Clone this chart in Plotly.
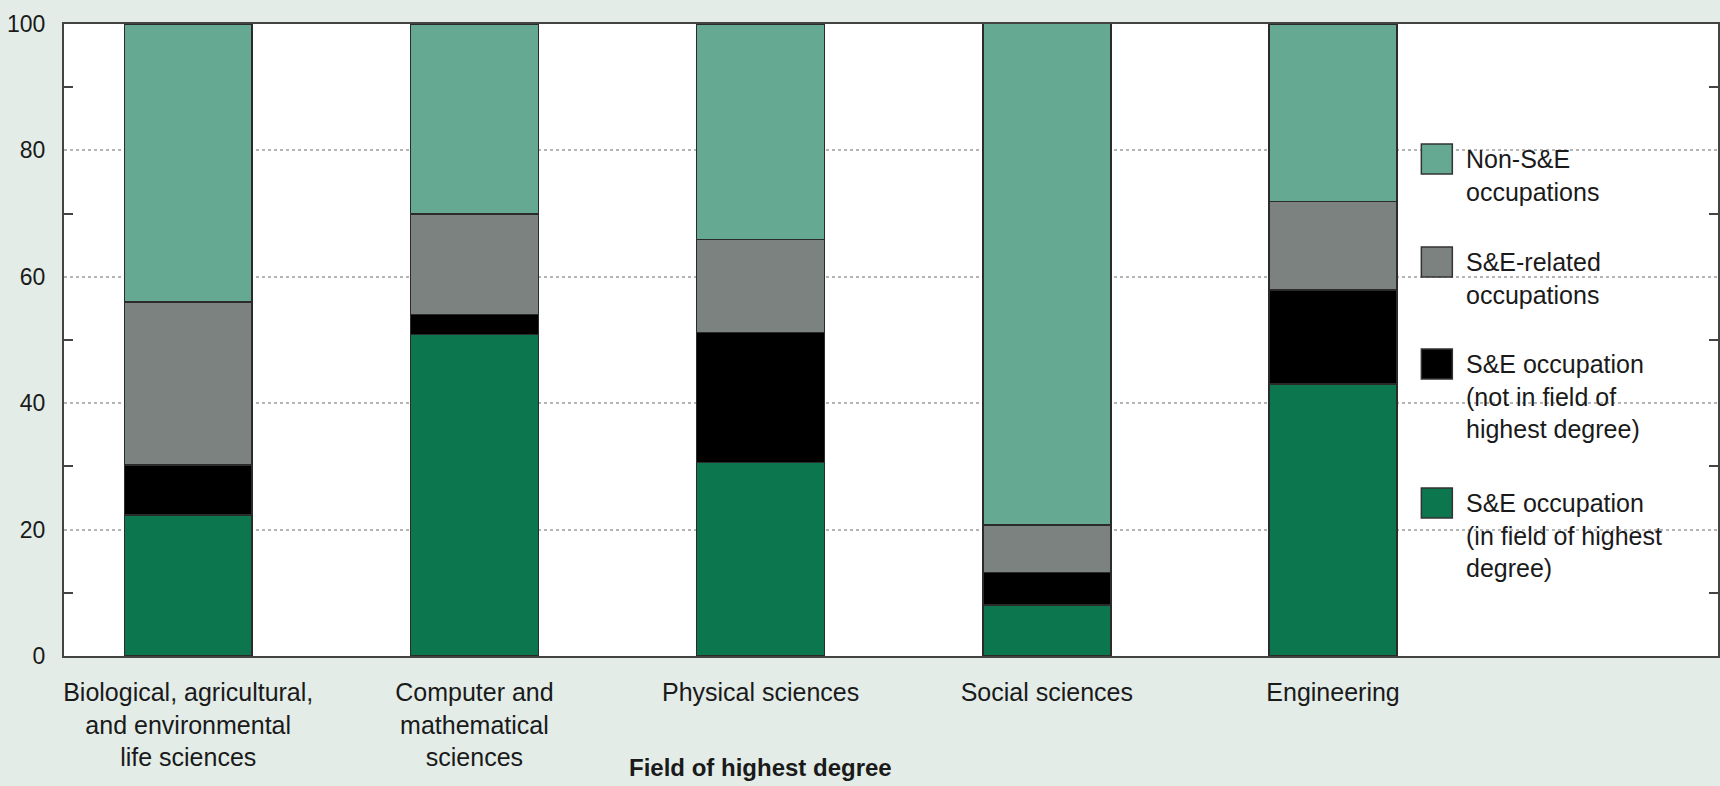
import plotly.graph_objects as go

categories = [
    "Biological, agricultural,<br>and environmental<br>life sciences",
    "Computer and<br>mathematical<br>sciences",
    "Physical sciences",
    "Social sciences",
    "Engineering",
]
series_names = [
    "S&E occupation<br>(in field of highest<br>degree)",
    "S&E occupation<br>(not in field of<br>highest degree)",
    "S&E-related<br>occupations",
    "Non-S&E<br>occupations",
]
in_field = [22.3, 50.9, 30.6, 8.1, 43.0]
not_in_field = [7.9, 3.1, 20.6, 5.1, 14.9]
se_related = [25.8, 15.9, 14.7, 7.5, 14.0]
non_se = [44.0, 30.1, 34.1, 79.4, 28.1]
y_ticks = [0, 20, 40, 60, 80, 100]

series_values = [in_field, not_in_field, se_related, non_se]
colors = ["#0c774f", "#000000", "#7c8280", "#66a993"]

W, H = 1720, 786
L, R, T, B = 64, 0, 24, 130
pw, ph = W - L - R, H - T - B
FONT = "Liberation Sans, Arial, sans-serif"

def px(x):
    return (x - L) / pw

def py(y):
    return (H - B - y) / ph

fig = go.Figure()
for name, vals, col in zip(series_names, series_values, colors):
    fig.add_trace(go.Bar(
        x=categories, y=vals, name=name, width=0.447,
        marker=dict(color=col, line=dict(color="#2b2b2b", width=1.5)),
        showlegend=False,
    ))

shapes = []
annotations = []
# legend background box
shapes.append(dict(type="rect", xref="paper", yref="paper", layer="between",
                   x0=px(1413), x1=px(1706), y0=py(565), y1=py(125),
                   fillcolor="white", line=dict(width=0)))
# manual legend (top to bottom)
legend_tops = [144, 247, 349, 488]
for i, (name, col) in enumerate(zip(series_names[::-1], colors[::-1])):
    top = legend_tops[i]
    shapes.append(dict(type="rect", xref="paper", yref="paper",
                       x0=px(1423), x1=px(1454), y0=py(top + 30), y1=py(top),
                       fillcolor=col, line=dict(color="#333333", width=1.5)))
    annotations.append(dict(xref="paper", yref="paper", x=px(1466), y=py(top - 1),
                            xanchor="left", yanchor="top", align="left",
                            text=name, showarrow=False,
                            font=dict(family=FONT, size=25, color="#1a1a1a")))

annotations.append(dict(xref="paper", yref="paper", x=px(761), y=py(767),
                        xanchor="center", yanchor="middle",
                        text="<b>Field of highest degree</b>", showarrow=False,
                        font=dict(family=FONT, size=24, color="#1a1a1a")))

fig.update_layout(
    width=W, height=H,
    margin=dict(l=L, r=R, t=T, b=B, pad=0),
    barmode="stack",
    paper_bgcolor="#e3ece7",
    plot_bgcolor="white",
    font=dict(family=FONT, size=23, color="#1a1a1a"),
    shapes=shapes,
    annotations=annotations,
    showlegend=False,
    xaxis=dict(
        range=[-0.434, 5.345], showline=True, linecolor="#444444", linewidth=2,
        mirror=True, ticks="", showgrid=False, ticklabelstandoff=13,
        tickfont=dict(family=FONT, size=25, color="#1a1a1a"),
    ),
    yaxis=dict(
        range=[0, 100], tickvals=y_ticks, showline=True, linecolor="#444444",
        linewidth=2, mirror="ticks", ticks="", showgrid=True,
        gridcolor="#b5b5b5", gridwidth=2, griddash="dot", zeroline=False,
        ticklabelstandoff=12,
        tickfont=dict(family=FONT, size=23, color="#1a1a1a"),
        minor=dict(ticks="inside", tick0=10, dtick=20, ticklen=9,
                   tickcolor="#444444", tickwidth=2, showgrid=False),
    ),
)

fig.write_html(
    "out.html",
    config={"displayModeBar": False, "staticPlot": True},
    post_script="document.body.style.margin='0';document.body.style.overflow='hidden';",
)
